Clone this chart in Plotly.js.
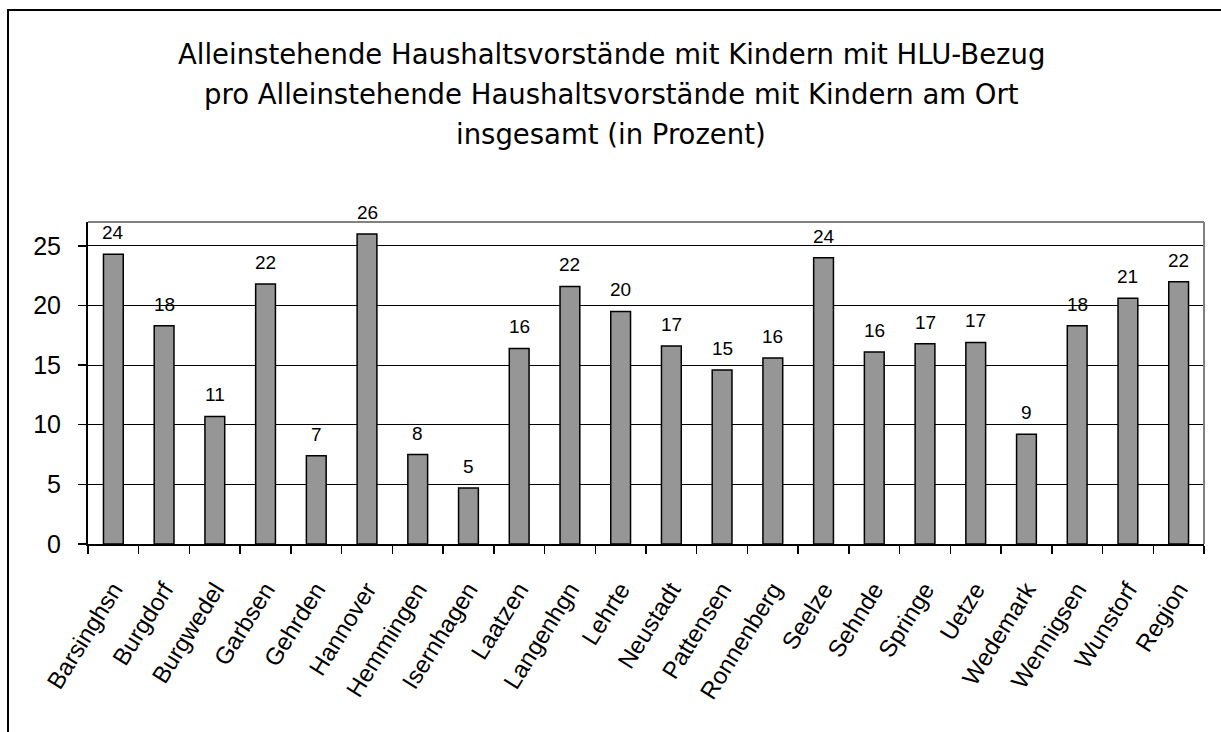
<!DOCTYPE html>
<html>
<head>
<meta charset="utf-8">
<script src="https://cdn.plot.ly/plotly-3.0.1.min.js"></script>
<style>
html, body { margin: 0; padding: 0; background: #fff; }
#frame { position: absolute; left: 7px; top: 9px; width: 1400px; height: 900px; border-left: 2px solid #000; border-top: 2px solid #000; }
#chart { position: absolute; left: 0; top: 0; width: 1221px; height: 732px; }
</style>
</head>
<body>
<div id="frame"></div>
<div id="chart"></div>
<script>
const categories = ["Barsinghsn","Burgdorf","Burgwedel","Garbsen","Gehrden","Hannover","Hemmingen","Isernhagen","Laatzen","Langenhgn","Lehrte","Neustadt","Pattensen","Ronnenberg","Seelze","Sehnde","Springe","Uetze","Wedemark","Wennigsen","Wunstorf","Region"];
const values = [24.3,18.3,10.7,21.8,7.4,26.0,7.5,4.7,16.4,21.6,19.5,16.6,14.6,15.6,24.0,16.1,16.8,16.9,9.2,18.3,20.6,22.0];
const valueLabels = ["24","18","11","22","7","26","8","5","16","22","20","17","15","16","24","16","17","17","9","18","21","22"];
const yTicks = [0,5,10,15,20,25];
const titleLines = ["Alleinstehende Haushaltsvorstände mit Kindern mit HLU-Bezug","pro Alleinstehende Haushaltsvorstände mit Kindern am Ort","insgesamt (in Prozent)"];

const W = 1221, H = 732;
const mL = 88, mR = 17, mT = 222, mB = 188;
const plotH = H - mT - mB;
const plotW = W - mL - mR;

const annotations = [];
for (let i = 0; i < categories.length; i++) {
  annotations.push({
    x: categories[i], y: values[i], xref: 'x', yref: 'y',
    text: valueLabels[i], showarrow: false, yanchor: 'bottom', yshift: 9,
    font: {family: 'Liberation Sans, Arial, sans-serif', size: 19, color: '#000'}
  });
}
const titleBaselines = [79, 119, 159];
const titleFont = {family: 'DejaVu Sans, sans-serif', size: 27.5, color: '#000'};
titleLines.forEach((t, k) => {
  annotations.push({
    xref: 'paper', yref: 'paper',
    x: (611 - mL) / plotW, y: (H - mB - titleBaselines[k] + 7) / plotH,
    text: t, showarrow: false, xanchor: 'center', yanchor: 'bottom',
    font: titleFont
  });
});

const trace = {
  type: 'bar', x: categories, y: values,
  marker: {color: '#969696', line: {color: '#000', width: 1.5}},
  hoverinfo: 'skip'
};

const layout = {
  width: W, height: H,
  margin: {l: mL, r: mR, t: mT, b: mB, pad: 0},
  paper_bgcolor: 'rgba(0,0,0,0)', plot_bgcolor: 'rgba(0,0,0,0)',
  showlegend: false, bargap: 0.61,
  font: {family: 'Liberation Sans, Arial, sans-serif', color: '#000'},
  xaxis: {
    type: 'category', tickangle: -58, tickson: 'boundaries',
    ticks: 'outside', ticklen: 8, tickwidth: 1.5, tickcolor: '#000',
    showline: true, linecolor: '#000', linewidth: 2,
    showgrid: false, zeroline: false, ticklabelstandoff: 20,
    tickfont: {size: 24, color: '#000'}
  },
  yaxis: {
    range: [0, 27], tickvals: yTicks, ticktext: yTicks.map(String),
    ticks: 'outside', ticklen: 8, tickwidth: 1.5, tickcolor: '#000',
    showline: true, linecolor: '#000', linewidth: 2,
    showgrid: true, gridcolor: '#000', gridwidth: 1, zeroline: false,
    ticklabelstandoff: 12,
    tickfont: {size: 25, color: '#000'}
  },
  shapes: [
    {type: 'line', xref: 'paper', yref: 'paper', x0: 0, x1: 1, y0: 1, y1: 1, line: {color: '#808080', width: 2}},
    {type: 'line', xref: 'paper', yref: 'paper', x0: 1, x1: 1, y0: 0, y1: 1, line: {color: '#808080', width: 2}}
  ],
  annotations: annotations
};

Plotly.newPlot('chart', [trace], layout, {staticPlot: true, displayModeBar: false});
</script>
</body>
</html>
